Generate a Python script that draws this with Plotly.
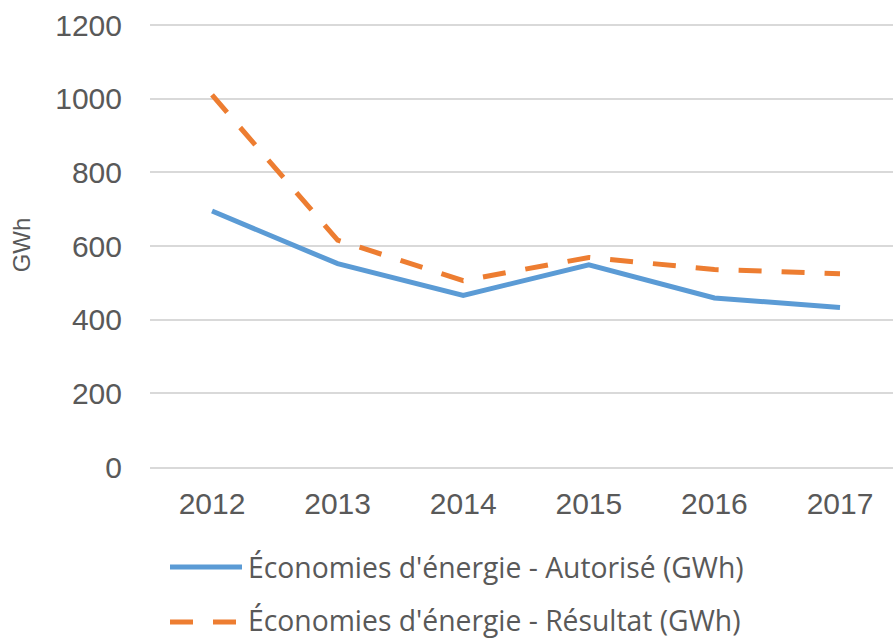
import plotly.graph_objects as go

years = ["2012", "2013", "2014", "2015", "2016", "2017"]
autorise = [695, 552, 466, 549, 459, 433]
resultat = [1010, 616, 506, 569, 536, 525]
series_names = ["Économies d'énergie - Autorisé (GWh)", "Économies d'énergie - Résultat (GWh)"]
y_ticks = [0, 200, 400, 600, 800, 1000, 1200]

BLUE = "#5B9BD5"
ORANGE = "#ED7D31"
TXT = "#595959"
GRID = "#D9D9D9"
W, H = 893, 639
ML, MR, MT, MB = 150, 0, 23, 172
PX_PER_UNIT = 442 / 1200.0
Y_TOP = (H - MT - MB) / PX_PER_UNIT

fig = go.Figure()
fig.add_trace(go.Scatter(x=years, y=autorise, mode="lines", name=series_names[0],
                         line=dict(color=BLUE, width=5), showlegend=False))
fig.add_trace(go.Scatter(x=years, y=resultat, mode="lines", name=series_names[1],
                         line=dict(color=ORANGE, width=5, dash="23px,20px"), showlegend=False))

pw = W - ML - MR
ph = H - MT - MB
def px_x(p):
    return (p - ML) / pw
def px_y(p):
    return (H - MB - p) / ph

# custom legend (line sample row y, text row y)
leg = [(series_names[0], BLUE, "solid", 567, 567), (series_names[1], ORANGE, "23px,20px", 622, 619.5)]
for name, col, dash, yy, ty in leg:
    fig.add_shape(type="line", xref="paper", yref="paper",
                  x0=px_x(170), x1=px_x(242), y0=px_y(yy), y1=px_y(yy),
                  line=dict(color=col, width=5, dash=dash))
    fig.add_annotation(xref="paper", yref="paper", x=px_x(246), y=px_y(ty),
                       xanchor="left", yanchor="middle", showarrow=False, text=name,
                       font=dict(family="Open Sans", size=28.3, color=TXT))

fig.update_layout(
    width=W, height=H,
    margin=dict(l=ML, r=MR, t=MT, b=MB),
    paper_bgcolor="white", plot_bgcolor="white",
    font=dict(family="Liberation Sans, Arial", color=TXT),
    showlegend=False,
)
fig.update_xaxes(type="category", range=[-0.494, 5.422], showgrid=False,
                 showline=True, linecolor=GRID, linewidth=2,
                 ticks="outside", ticklen=9, tickcolor="rgba(0,0,0,0)",
                 tickfont=dict(size=30, color=TXT))
fig.update_yaxes(range=[0, Y_TOP], tickvals=y_ticks, showgrid=True, gridcolor=GRID, gridwidth=2,
                 zeroline=False, showline=False,
                 ticks="outside", ticklen=21, tickcolor="rgba(0,0,0,0)",
                 tickfont=dict(size=30, color=TXT),
                 title=dict(text="GWh", font=dict(size=24, color=TXT), standoff=17))

fig.write_html("out.html", config={"displayModeBar": False},
               post_script="document.body.style.margin='0';")
